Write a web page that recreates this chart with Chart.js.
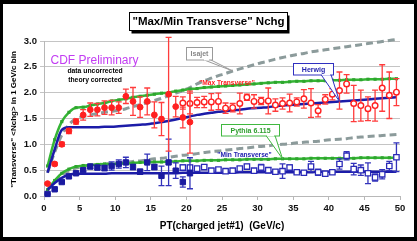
<!DOCTYPE html>
<html>
<head>
<meta charset="utf-8">
<script src="https://cdn.jsdelivr.net/npm/chart.js@4/dist/chart.umd.min.js"></script>
<style>
html, body { margin: 0; padding: 0; background: #fff; overflow: hidden; }
canvas { display: block; }
</style>
</head>
<body>
<canvas id="nchg" width="417" height="241"></canvas>
<script>
// bin centres, PT(charged jet#1) in GeV/c
const ptBins = [
  0.5, 1.5, 2.5, 3.5, 4.5, 5.5, 6.5, 7.5, 8.5, 9.5,
  10.5, 11.5, 12.5, 13.5, 14.5, 15.5, 16.5, 17.5, 18.5, 19.5,
  20.5, 21.5, 22.5, 23.5, 24.5, 25.5, 26.5, 27.5, 28.5, 29.5,
  30.5, 31.5, 32.5, 33.5, 34.5, 35.5, 36.5, 37.5, 38.5, 39.5,
  40.5, 41.5, 42.5, 43.5, 44.5, 45.5, 46.5, 47.5, 48.5, 49.5
];
const mbBins = ptBins.slice(0, 21);   // min-bias data, filled symbols
const j20Bins = ptBins.slice(19);     // JET20 data, open symbols

// "Max Transverse" data
const maxMB = [0.24, 0.62, 1.00, 1.26, 1.44, 1.57, 1.67, 1.67, 1.71, 1.71,
  1.71, 1.93, 1.83, 1.72, 1.83, 1.57, 1.49, 1.97, 1.73, 1.52, 1.43];
const maxMBErr = [0.02, 0.03, 0.04, 0.05, 0.05, 0.10, 0.13, 0.12, 0.13, 0.14,
  0.11, 0.14, 0.27, 0.20, 0.26, 0.25, 0.32, 1.10, 0.20, 0.20, 0.60];
const maxJ20 = [1.80, 1.79, 1.81, 1.82, 1.82, 1.83, 1.70, 1.71, 1.79, 1.91,
  1.83, 1.84, 1.84, 1.76, 1.79, 1.80, 1.82, 1.88, 1.80, 1.65,
  1.87, 1.97, 2.04, 2.17, 1.79, 1.75, 1.69, 1.75, 2.09, 1.95, 2.01];
const maxJ20Err = [0.12, 0.20, 0.10, 0.11, 0.16, 0.16, 0.10, 0.08, 0.20, 0.06,
  0.13, 0.07, 0.25, 0.12, 0.11, 0.17, 0.08, 0.18, 0.28, 0.12,
  0.09, 0.11, 0.36, 0.18, 0.35, 0.30, 0.23, 0.30, 0.45, 0.45, 0.26];

// "Min Transverse" data
const minMB = [0.04, 0.13, 0.27, 0.38, 0.44, 0.50, 0.57, 0.55, 0.54, 0.58,
  0.62, 0.65, 0.56, 0.47, 0.65, 0.56, 0.39, 0.65, 0.49, 0.27, 0.44];
const minMBErr = [0.01, 0.02, 0.02, 0.03, 0.03, 0.03, 0.04, 0.04, 0.05, 0.08,
  0.08, 0.10, 0.05, 0.05, 0.16, 0.05, 0.19, 0.45, 0.15, 0.10, 0.30];
const minJ20 = [0.55, 0.55, 0.53, 0.56, 0.49, 0.51, 0.48, 0.49, 0.53, 0.57,
  0.49, 0.55, 0.50, 0.47, 0.48, 0.55, 0.46, 0.45, 0.57, 0.46,
  0.43, 0.46, 0.62, 0.78, 0.52, 0.50, 0.44, 0.36, 0.42, 0.58, 0.75];
const minJ20Err = [0.05, 0.04, 0.04, 0.04, 0.04, 0.04, 0.03, 0.04, 0.04, 0.04,
  0.03, 0.06, 0.05, 0.04, 0.14, 0.05, 0.03, 0.03, 0.10, 0.06,
  0.03, 0.03, 0.10, 0.08, 0.11, 0.10, 0.20, 0.07, 0.09, 0.09, 0.28];

// theory curves
const pythiaMax = [0.58, 1.09, 1.44, 1.62, 1.71, 1.72, 1.75, 1.78, 1.80, 1.84,
  1.86, 1.88, 1.91, 1.93, 1.95, 1.97, 1.99, 2.00, 2.03, 2.05,
  2.07, 2.08, 2.10, 2.11, 2.12, 2.13, 2.14, 2.15, 2.16, 2.17,
  2.18, 2.19, 2.20, 2.20, 2.21, 2.22, 2.22, 2.23, 2.23, 2.23,
  2.24, 2.24, 2.25, 2.25, 2.25, 2.26, 2.26, 2.26, 2.27, 2.27];
const pythiaMin = [0.12, 0.30, 0.44, 0.52, 0.57, 0.59, 0.60, 0.61, 0.62, 0.62,
  0.63, 0.63, 0.64, 0.65, 0.65, 0.66, 0.66, 0.67, 0.67, 0.68,
  0.68, 0.68, 0.69, 0.69, 0.69, 0.70, 0.70, 0.70, 0.71, 0.71,
  0.71, 0.71, 0.72, 0.72, 0.72, 0.72, 0.72, 0.73, 0.73, 0.73,
  0.73, 0.73, 0.73, 0.73, 0.74, 0.74, 0.74, 0.74, 0.74, 0.74];
const herwigMax = [0.45, 0.90, 1.28, 1.33, 1.33, 1.33, 1.33, 1.33, 1.34, 1.34,
  1.35, 1.36, 1.37, 1.38, 1.39, 1.41, 1.43, 1.45, 1.48, 1.51,
  1.54, 1.57, 1.59, 1.61, 1.63, 1.64, 1.66, 1.67, 1.69, 1.70,
  1.71, 1.72, 1.74, 1.75, 1.76, 1.77, 1.78, 1.79, 1.80, 1.81,
  1.82, 1.83, 1.84, 1.85, 1.86, 1.87, 1.88, 1.89, 1.90, 1.91];
const herwigMin = [0.12, 0.25, 0.35, 0.41, 0.43, 0.43, 0.43, 0.43, 0.43, 0.44,
  0.44, 0.44, 0.44, 0.44, 0.44, 0.44, 0.44, 0.44, 0.44, 0.45,
  0.45, 0.45, 0.45, 0.45, 0.45, 0.45, 0.45, 0.46, 0.46, 0.46,
  0.46, 0.46, 0.46, 0.46, 0.46, 0.46, 0.46, 0.46, 0.47, 0.47,
  0.47, 0.47, 0.47, 0.47, 0.47, 0.47, 0.47, 0.47, 0.47, 0.47];
const isajetMax = [0.45, 0.85, 1.18, 1.38, 1.50, 1.54, 1.57, 1.60, 1.62, 1.64,
  1.66, 1.69, 1.73, 1.77, 1.81, 1.85, 1.89, 1.94, 1.99, 2.04,
  2.10, 2.17, 2.23, 2.28, 2.33, 2.37, 2.42, 2.46, 2.50, 2.54,
  2.58, 2.61, 2.65, 2.68, 2.71, 2.74, 2.76, 2.79, 2.81, 2.83,
  2.85, 2.87, 2.89, 2.91, 2.93, 2.95, 2.97, 2.99, 3.01, 3.03];
const isajetMin = [0.12, 0.28, 0.41, 0.48, 0.54, 0.57, 0.59, 0.61, 0.62, 0.63,
  0.64, 0.65, 0.67, 0.68, 0.70, 0.72, 0.73, 0.75, 0.77, 0.79,
  0.80, 0.82, 0.84, 0.86, 0.87, 0.89, 0.90, 0.92, 0.93, 0.95,
  0.96, 0.97, 0.99, 1.00, 1.01, 1.03, 1.04, 1.05, 1.06, 1.08,
  1.09, 1.10, 1.11, 1.13, 1.14, 1.15, 1.16, 1.17, 1.18, 1.19];

const yTicks = [0, 0.5, 1, 1.5, 2, 2.5, 3];
const xTicks = [0, 5, 10, 15, 20, 25, 30, 35, 40, 45, 50];

const FONT = "'Liberation Sans', Arial, sans-serif";
const RED = '#ff2020';
const BLUE = '#1c1ca8';
const GREEN = '#35b535';
const GREY = '#8c9b9b';

function xy(xs, ys) {
  return xs.map((x, i) => ({ x: x, y: ys[i] }));
}

// frame round the whole picture
const frame = {
  id: 'frame',
  beforeDraw(chart) {
    const ctx = chart.ctx;
    ctx.save();
    ctx.fillStyle = '#000';
    ctx.fillRect(0, 0, chart.width, chart.height);
    ctx.fillStyle = '#fff';
    ctx.fillRect(3, 4, 411, 233);
    ctx.restore();
  }
};

// vertical error bars, drawn under each data set's markers
const errorBars = {
  id: 'errorBars',
  beforeDatasetDraw(chart, args) {
    const ds = chart.data.datasets[args.index];
    if (!ds.errors) return;
    const ctx = chart.ctx, sx = chart.scales.x, sy = chart.scales.y;
    ctx.save();
    ctx.strokeStyle = ds.errorColor;
    ctx.lineWidth = 1.3;
    ds.data.forEach((p, i) => {
      const e = ds.errors[i];
      const px = sx.getPixelForValue(p.x);
      const top = sy.getPixelForValue(p.y + e);
      const bot = sy.getPixelForValue(p.y - e);
      ctx.beginPath();
      ctx.moveTo(px, top); ctx.lineTo(px, bot);
      ctx.moveTo(px - 3, top); ctx.lineTo(px + 3, top);
      ctx.moveTo(px - 3, bot); ctx.lineTo(px + 3, bot);
      ctx.stroke();
    });
    ctx.restore();
  }
};

function callout(ctx, box, base, tip, line, text, textColor) {
  ctx.save();
  ctx.lineWidth = 1;
  ctx.strokeStyle = line;
  ctx.fillStyle = '#fff';
  ctx.beginPath();
  ctx.moveTo(base[0], box.y + box.h - 0.5);
  ctx.lineTo(tip[0], tip[1]);
  ctx.lineTo(base[1], box.y + box.h - 0.5);
  ctx.closePath();
  ctx.fill();
  ctx.stroke();
  ctx.fillRect(box.x, box.y, box.w, box.h);
  ctx.strokeRect(box.x, box.y, box.w, box.h);
  ctx.fillRect(base[0] + 1, box.y + box.h - 1.5, base[1] - base[0] - 2, 2);
  ctx.fillStyle = textColor;
  ctx.font = 'bold 7px ' + FONT;
  ctx.textAlign = 'center';
  ctx.textBaseline = 'middle';
  ctx.fillText(text, box.x + box.w / 2, box.y + box.h / 2 + 0.5);
  ctx.restore();
}

const labels = {
  id: 'labels',
  afterDraw(chart) {
    const ctx = chart.ctx, sx = chart.scales.x, sy = chart.scales.y;
    ctx.save();
    ctx.textAlign = 'center';
    ctx.textBaseline = 'middle';

    // title box with shadow
    ctx.fillStyle = '#000';
    ctx.fillRect(131.5, 15.5, 158, 18);
    ctx.fillStyle = '#fff';
    ctx.fillRect(129.5, 12.5, 158, 18);
    ctx.strokeStyle = '#000';
    ctx.lineWidth = 1;
    ctx.strokeRect(129.5, 12.5, 158, 18);
    ctx.fillStyle = '#000';
    ctx.font = 'bold 11.5px ' + FONT;
    ctx.fillText('"Max/Min Transverse" Nchg', 208.5, 22);

    ctx.fillStyle = '#c23cf2';
    ctx.font = '12px ' + FONT;
    ctx.fillText('CDF Preliminary', 94.5, 60.5);
    ctx.fillStyle = '#000';
    ctx.font = 'bold 6.8px ' + FONT;
    ctx.fillText('data uncorrected', 95, 71.5);
    ctx.fillText('theory corrected', 95, 80.5);

    ctx.font = 'bold 6.6px ' + FONT;
    ctx.fillStyle = RED;
    ctx.fillText('"Max Transverse"', 227, 83.5);
    ctx.fillStyle = '#2020b0';
    ctx.fillText('"Min Transverse"', 244.5, 155);

    // axis titles
    ctx.fillStyle = '#000';
    ctx.font = 'bold 10px ' + FONT;
    ctx.fillText('PT(charged jet#1)  (GeV/c)', 222, 226.5);
    ctx.save();
    ctx.translate(14, 119.5);
    ctx.rotate(-Math.PI / 2);
    ctx.font = 'bold 8px ' + FONT;
    ctx.fillText('"Transverse" <Nchg> in 1 GeV/c bin', 0, 0);
    ctx.restore();
    ctx.restore();

    callout(ctx, { x: 186.5, y: 47.5, w: 26, h: 12.5 }, [203, 210],
      [sx.getPixelForValue(ptBins[26]), sy.getPixelForValue(isajetMax[26])],
      '#9a9a9a', 'Isajet', '#888');
    callout(ctx, { x: 293.5, y: 63.5, w: 40, h: 11.5 }, [321, 331],
      [sx.getPixelForValue(ptBins[41]), sy.getPixelForValue(herwigMax[41])],
      '#3030c0', 'Herwig', '#2525b0');
    callout(ctx, { x: 221.5, y: 124.5, w: 58, h: 11.5 }, [266, 275],
      [sx.getPixelForValue(ptBins[33]), sy.getPixelForValue(pythiaMin[33])],
      '#40b840', 'Pythia 6.115', '#2f9f2f');
  }
};

const theory = (data, color, extra) => Object.assign({
  data: data,
  showLine: true,
  borderColor: color,
  backgroundColor: color,
  borderWidth: 2.5,
  pointRadius: 0,
  tension: 0.3,
  cubicInterpolationMode: 'monotone',
  clip: false,
  order: 2
}, extra || {});

const pythiaPts = { pointStyle: 'rect', pointRadius: 2.2, pointBackgroundColor: '#2ea52e', pointBorderWidth: 0 };
const isajetLine = { borderWidth: 3, borderDash: [7, 4], order: 3 };

new Chart(document.getElementById('nchg'), {
  type: 'line',
  data: {
    datasets: [
      theory(xy(ptBins, isajetMax), GREY, isajetLine),
      theory(xy(ptBins, isajetMin), GREY, isajetLine),
      theory(xy(ptBins, herwigMax), BLUE),
      theory(xy(ptBins, herwigMin), BLUE),
      theory(xy(ptBins, pythiaMax), GREEN, pythiaPts),
      theory(xy(ptBins, pythiaMin), GREEN, pythiaPts),
      {
        data: xy(mbBins, maxMB), errors: maxMBErr, errorColor: '#ff3c3c',
        showLine: false, pointStyle: 'circle', pointRadius: 2.9,
        pointBackgroundColor: RED, pointBorderColor: RED, pointBorderWidth: 1,
        clip: false, order: 0
      },
      {
        data: xy(j20Bins, maxJ20), errors: maxJ20Err, errorColor: '#ff3c3c',
        showLine: false, pointStyle: 'circle', pointRadius: 2.8,
        pointBackgroundColor: '#fff', pointBorderColor: RED, pointBorderWidth: 1.4,
        clip: false, order: 0
      },
      {
        data: xy(mbBins, minMB), errors: minMBErr, errorColor: '#3333bb',
        showLine: false, pointStyle: 'rect', pointRadius: 3.8,
        pointBackgroundColor: '#1a1aa0', pointBorderColor: '#1a1aa0', pointBorderWidth: 1,
        clip: false, order: 0
      },
      {
        data: xy(j20Bins, minJ20), errors: minJ20Err, errorColor: '#3333bb',
        showLine: false, pointStyle: 'rect', pointRadius: 3.8,
        pointBackgroundColor: '#fff', pointBorderColor: '#2a2ab8', pointBorderWidth: 1.3,
        clip: false, order: 0
      }
    ]
  },
  options: {
    responsive: false,
    animation: false,
    devicePixelRatio: 1,
    layout: { padding: { left: 0, right: 17, top: 41, bottom: 0 } },
    plugins: {
      legend: { display: false },
      tooltip: { enabled: false },
      title: { display: false }
    },
    scales: {
      x: {
        type: 'linear',
        min: 0,
        max: 50,
        afterFit: s => { s.height = 45; },
        afterBuildTicks: s => { s.ticks = xTicks.map(v => ({ value: v })); },
        grid: { drawOnChartArea: false, tickLength: 4, color: '#b8b8b8' },
        border: { color: '#b8b8b8' },
        ticks: {
          padding: 3,
          color: '#111',
          font: { family: FONT, size: 9.5, weight: 'bold' },
          callback: v => String(v)
        }
      },
      y: {
        min: 0,
        max: 3,
        afterFit: s => { s.width = 44; },
        afterBuildTicks: s => { s.ticks = yTicks.map(v => ({ value: v })); },
        grid: { tickLength: 4, color: '#c4c4c4' },
        border: { color: '#b8b8b8' },
        ticks: {
          padding: 3,
          color: '#111',
          font: { family: FONT, size: 9.5, weight: 'bold' },
          callback: v => v.toFixed(1)
        }
      }
    }
  },
  plugins: [frame, errorBars, labels]
});
</script>
</body>
</html>
